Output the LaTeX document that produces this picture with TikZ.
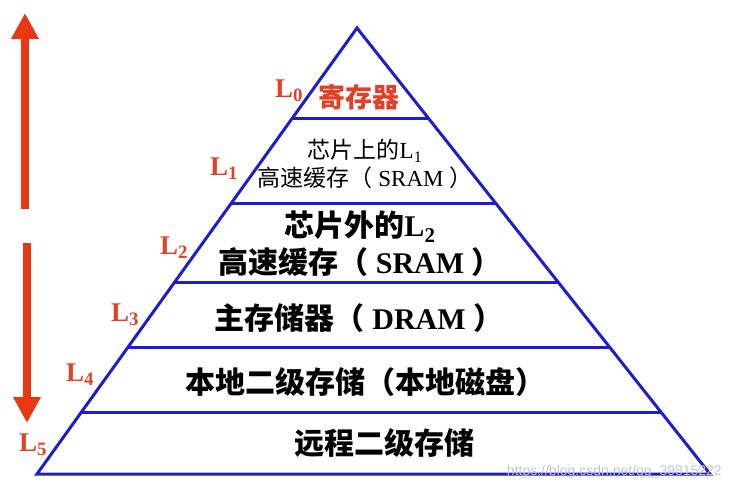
\documentclass[tikz,border=0pt]{standalone}
\usepackage{fontspec}
\setmainfont{Liberation Serif}
\newfontfamily\cjk{Noto Sans CJK SC}
\newfontfamily\urlfont{Liberation Sans}
\usetikzlibrary{arrows.meta,calc}
\definecolor{pyrblue}{RGB}{30,30,200}
\definecolor{tagred}{RGB}{225,65,40}
\definecolor{arrred}{RGB}{232,55,20}
\newcommand{\zh}[1]{{\cjk #1}}
\tikzset{
 edge/.style={draw=pyrblue,line width=3pt,line join=miter},
 tier/.style={draw=pyrblue,line width=3pt},
 tag/.style={text=tagred,font=\fontsize{27}{27}\selectfont\bfseries,inner sep=0pt},
 bigtxt/.style={font=\fontsize{30}{37}\selectfont\bfseries,align=center,inner sep=0pt},
 smalltxt/.style={font=\fontsize{23}{28}\selectfont,align=center,inner sep=0pt},
 flow/.style={draw=arrred,line width=8pt,-{Triangle[width=26pt,length=26pt]}},
}
\begin{document}
\begin{tikzpicture}[x=1pt,y=-1pt]
 \useasboundingbox (0,0) rectangle (731,493);
 % pyramid outline
 \coordinate (apex) at (357,28);
 \coordinate (base l) at (37,474);
 \coordinate (base r) at (710,474);
 \draw[edge] (apex) -- (base l) -- (base r) -- cycle;
 % tier lines
 \foreach \t/\n in {0.202/1,0.393/2,0.571/3,0.717/4,0.863/5} {
  \coordinate (tier \n l) at ($(apex)!\t!(base l)$);
  \coordinate (tier \n r) at ($(apex)!\t!(base r)$);
  \draw[tier] (tier \n l) -- (tier \n r);
 }
 % level texts
 \node (lvl 0) at (359,97) [bigtxt,text=tagred,font=\fontsize{27}{27}\selectfont\bfseries] {\zh{寄存器}};
 \node (lvl 1) at (365,164) [smalltxt] {\zh{芯片上的}L\textsubscript{1}\\\zh{高速缓存（} SRAM \zh{）}};
 \node (lvl 2) at (360,244) [bigtxt] {\zh{芯片外的}L\textsubscript{2}\\\zh{高速缓存（} SRAM \zh{）}};
 \node (lvl 3) at (359,318) [bigtxt] {\zh{主存储器（} DRAM \zh{）}};
 \node (lvl 4) at (365,382) [bigtxt] {\zh{本地二级存储（本地磁盘）}};
 \node (lvl 5) at (384,443) [bigtxt] {\zh{远程二级存储}};
 % level tags
 \node (tag 0) at (289,91) [tag] {L\textsubscript{0}};
 \node (tag 1) at (224,169) [tag] {L\textsubscript{1}};
 \node (tag 2) at (174,248) [tag] {L\textsubscript{2}};
 \node (tag 3) at (125,315) [tag] {L\textsubscript{3}};
 \node (tag 4) at (80,375) [tag] {L\textsubscript{4}};
 \node (tag 5) at (33,445) [tag] {L\textsubscript{5}};
 % arrows
 \coordinate (up bot) at (25,209);
 \coordinate (up top) at (25,13);
 \coordinate (dn top) at (27,243);
 \coordinate (dn bot) at (27,423);
 \draw[flow] (up bot) -- (up top);
 \draw[flow] (dn top) -- (dn bot);
 \node (mark) at (722,472) [anchor=east,inner sep=0pt,text=gray!45,font=\urlfont\fontsize{14}{14}\selectfont] {https://blog.csdn.net/qq\_39815222};
\end{tikzpicture}
\end{document}
